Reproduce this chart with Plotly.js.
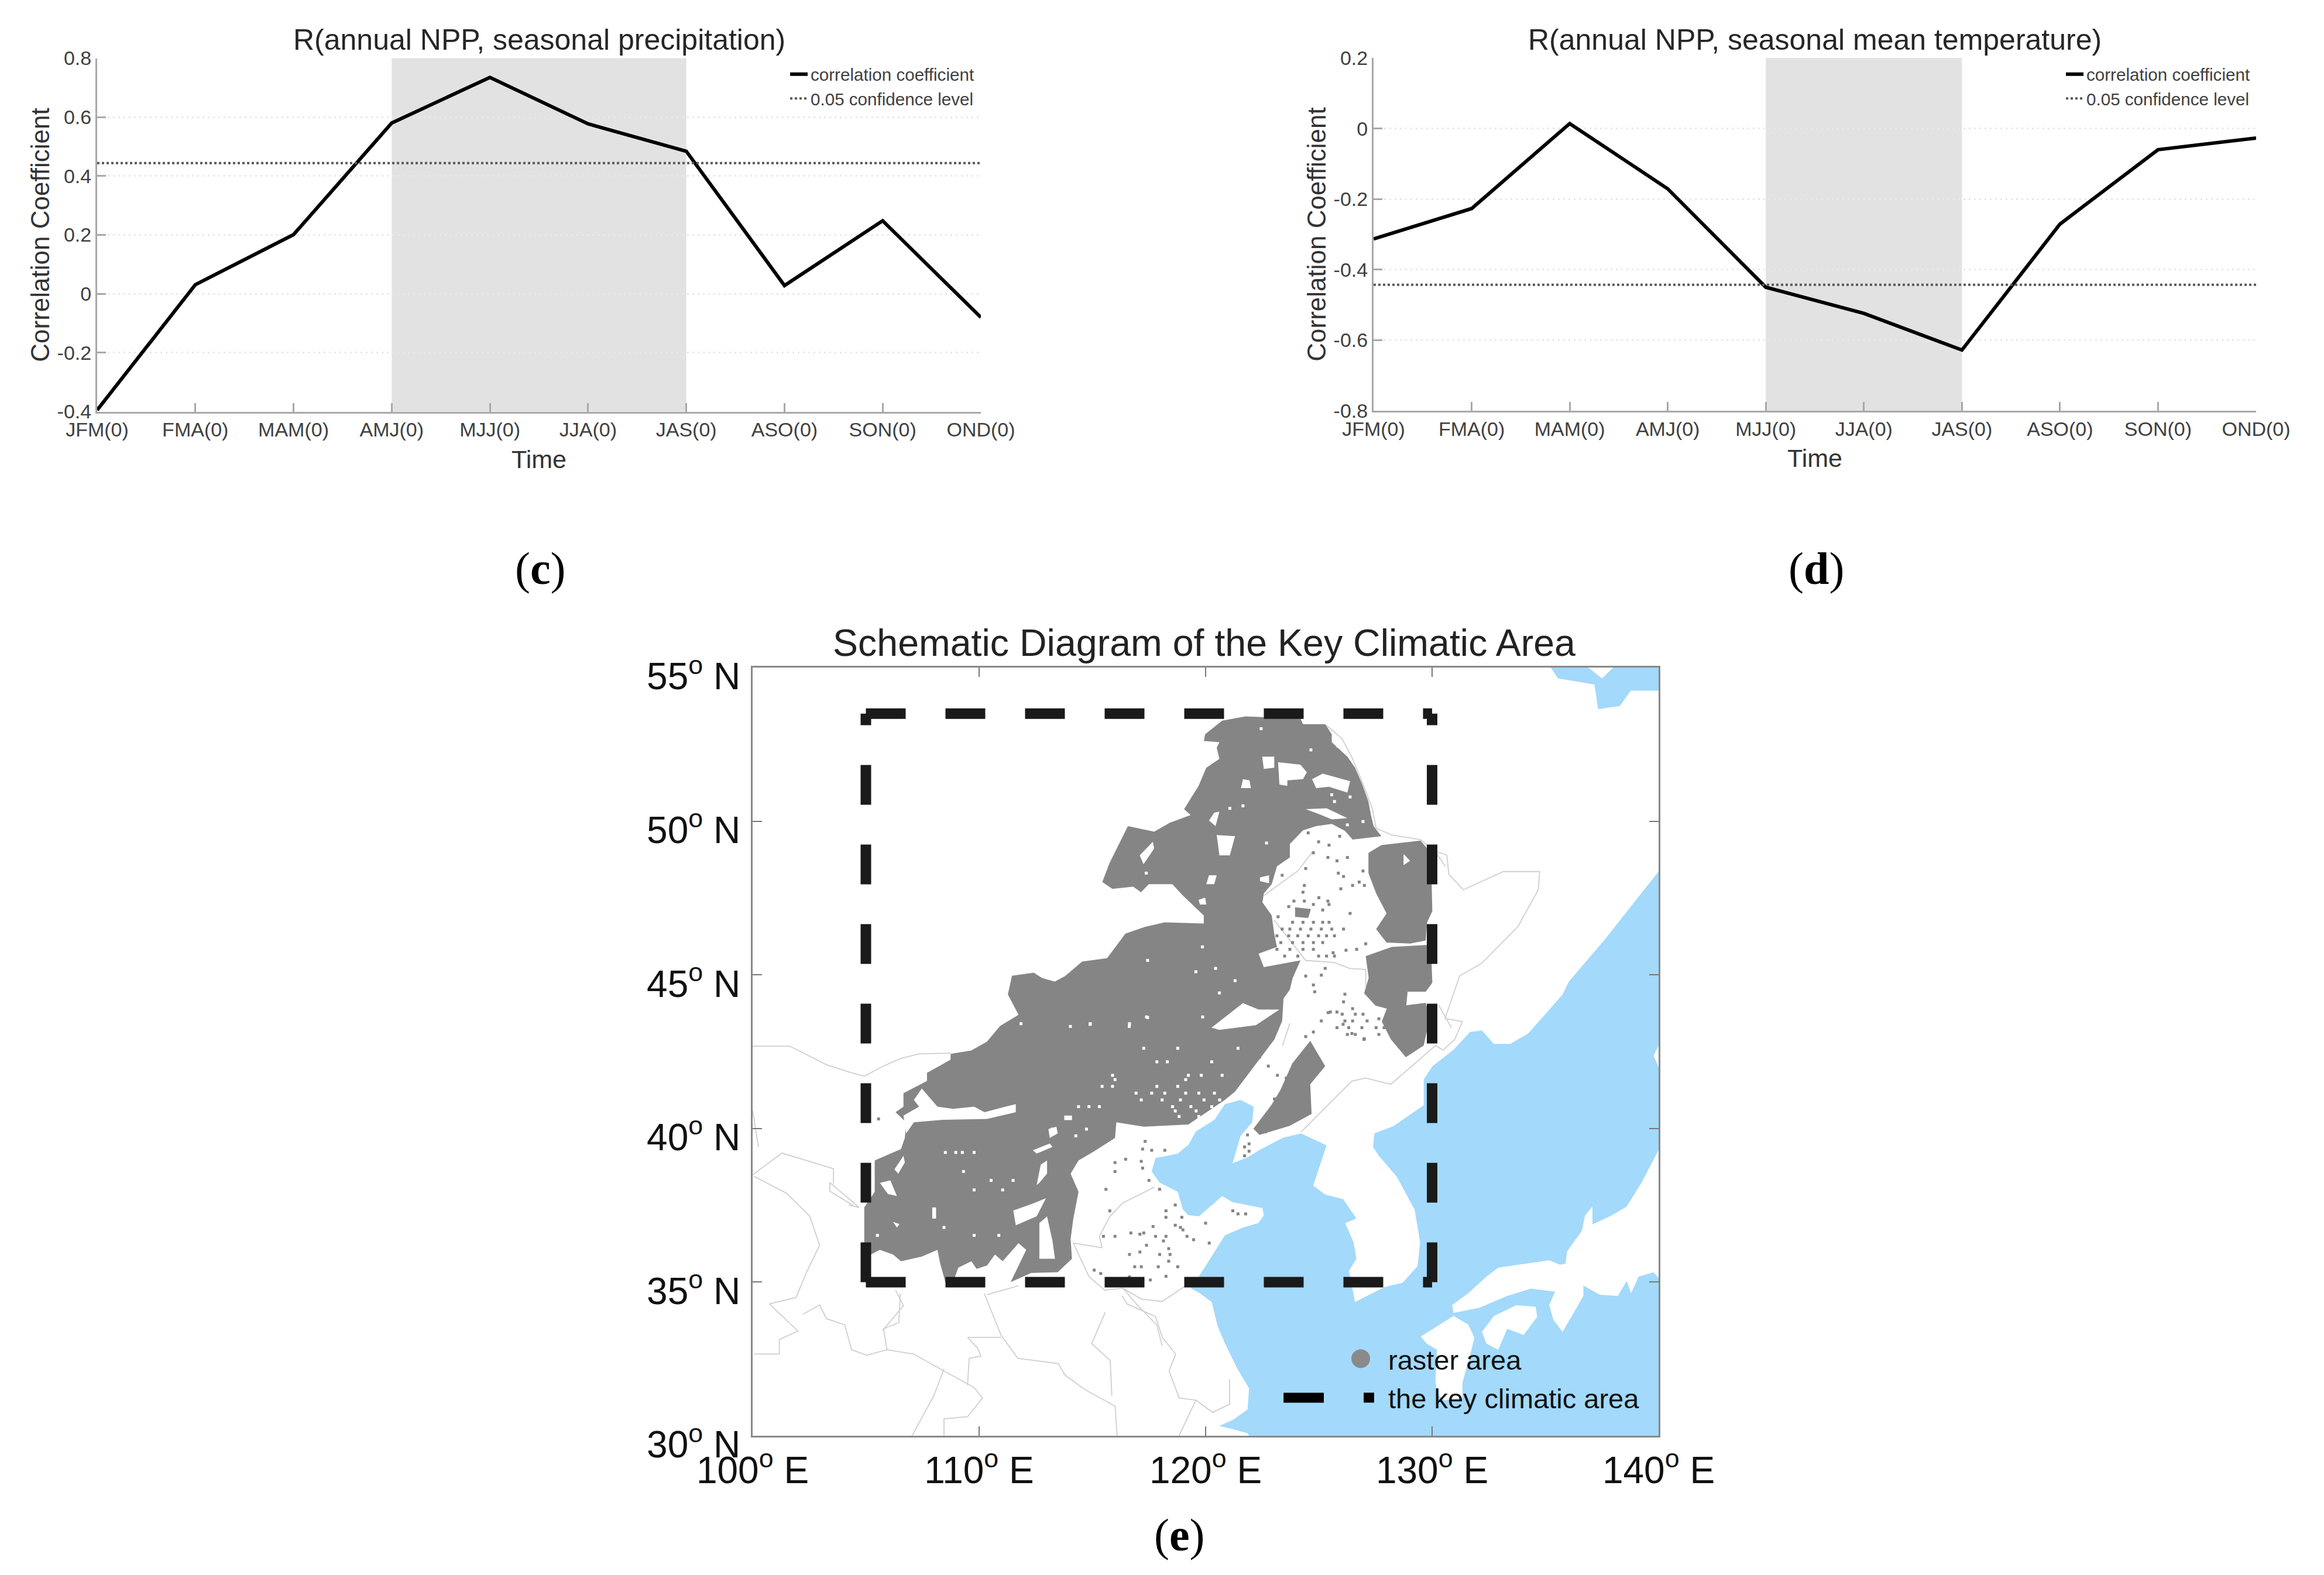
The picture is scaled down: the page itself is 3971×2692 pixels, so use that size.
<!DOCTYPE html>
<html><head><meta charset="utf-8">
<script src="https://cdn.plot.ly/plotly-3.0.1.min.js"></script>
<style>html,body{margin:0;padding:0;background:#fff}#chart{width:3971px;height:2692px}</style>
</head><body><div id="chart"></div>
<script>
const seasons = ['JFM(0)','FMA(0)','MAM(0)','AMJ(0)','MJJ(0)','JJA(0)','JAS(0)','ASO(0)','SON(0)','OND(0)'];
const precipR = [-0.395,0.031,0.201,0.58,0.735,0.577,0.484,0.028,0.248,-0.08];
const tempR = [-0.313,-0.227,0.014,-0.171,-0.45,-0.524,-0.628,-0.271,-0.06,-0.027];
const precipConf = 0.444;
const tempConf = -0.443;
const precipShade = ['AMJ(0)','JAS(0)'];
const tempShade = ['MJJ(0)','JAS(0)'];
const precipTicks = [-0.4,-0.2,0,0.2,0.4,0.6,0.8];
const precipTickText = ['-0.4','-0.2','0','0.2','0.4','0.6','0.8'];
const tempTicks = [-0.8,-0.6,-0.4,-0.2,0,0.2];
const tempTickText = ['-0.8','-0.6','-0.4','-0.2','0','0.2'];
const lonTicks = [100,110,120,130,140];
const latTicks = [30,35,40,45,50,55];
const keyLon = [105,130];
const keyLat = [35,53.5];

const seaCoast = [[121.92,30],[121.85,30.08],[121.19,30.22],[120.6,30.32],[121.19,30.51],[121.85,30.85],[121.92,31.54],[121.39,32.2],[120.86,33.0],[120.53,33.57],[120.27,34.35],[119.74,34.64],[119.35,34.8],[119.7,35.18],[120.39,35.98],[120.85,36.52],[121.66,36.78],[122.33,36.92],[122.57,37.17],[122.51,37.41],[121.19,37.6],[120.73,37.8],[120.39,37.58],[119.7,37.14],[119.24,37.18],[119.0,37.36],[118.77,37.94],[117.97,38.24],[117.62,38.6],[117.79,39.04],[118.31,39.11],[118.77,39.18],[119.24,39.47],[119.58,39.91],[120.39,40.28],[120.85,40.79],[121.54,40.93],[122.12,40.71],[122.06,40.2],[121.54,39.76],[121.43,39.47],[121.19,38.87],[121.85,39.06],[122.38,39.3],[123.43,39.7],[124.22,39.84],[125.34,39.45],[124.75,38.14],[125.28,37.85],[126.07,37.7],[126.66,37.07],[126.16,36.92],[126.53,36.3],[126.66,35.76],[126.33,35.37],[126.6,34.35],[127.12,34.55],[127.91,34.84],[128.7,34.98],[129.36,35.52],[129.47,36.3],[129.23,37.36],[128.44,38.43],[127.65,39.11],[127.39,39.4],[127.45,39.84],[128.31,40.08],[129.63,40.76],[129.63,41.59],[130.02,42.03],[130.95,42.56],[131.67,43.14],[132.2,43.19],[132.73,42.75],[133.45,42.75],[134.24,43.09],[135.3,43.97],[135.76,44.36],[136.04,44.78],[137.65,46.17],[138.93,47.37],[140,48.36],[140,30]];
const seaNorth = [[135.24,55],[135.56,54.65],[137.17,54.45],[137.33,53.65],[138.29,53.75],[138.77,54.25],[140,54.25],[140,55]];
const honshu = [[140,39.3],[139.25,38.24],[138.59,37.46],[137.93,37.17],[137.08,36.88],[137.08,37.46],[136.75,37.17],[136.62,36.68],[135.96,36.0],[135.89,35.6],[135.63,35.57],[135.17,35.71],[132.92,35.47],[132.4,35.18],[131.6,34.64],[130.88,34.25],[130.95,34.0],[132.07,34.16],[133.32,34.55],[134.37,34.79],[135.43,34.69],[135.17,34.25],[135.36,33.77],[135.76,33.38],[136.22,33.96],[136.68,34.55],[136.68,34.89],[137.41,34.59],[138.2,34.55],[138.59,35.03],[138.79,34.64],[139.12,35.18],[139.78,35.32],[140,35.13]];
const kyushu = [[129.5,33.23],[130.95,33.9],[131.6,33.62],[131.87,33.19],[131.67,32.6],[131.34,31.73],[131.34,31.24],[130.55,31.15],[130.22,31.34],[130.15,31.79],[130.22,32.8],[129.76,33.0]];
const shikoku = [[132.2,33.38],[132.73,33.9],[133.72,34.25],[134.57,34.2],[134.64,33.87],[134.04,33.28],[133.32,33.48],[132.92,32.8],[132.4,33.0]];
const islets = [[140,42.7],[139.78,42.37],[140,42.0],null,[136.9,55],[138.0,55],[137.5,54.65]];

const borders = [
 [[100,42.68],[101.64,42.68],[103.25,42.08],[104.24,41.84],[104.93,41.7],[105.74,42.02],[106.55,42.28],[107.35,42.43],[108.74,42.45]],
 [[125.34,53.12],[126.03,52.68],[126.49,52.03],[126.9,51.3],[127.36,50.42],[127.53,49.77],[128.22,49.55],[129.49,49.4],[130.07,49.04],[130.65,48.9],[130.74,48.27],[131.38,47.77],[133.15,48.36],[134.75,48.36],[134.69,47.77],[133.79,46.57],[132.18,45.37],[131.22,44.97],[130.57,43.58],[131.34,43.48],[131.0,42.9],[130.49,42.55],[130.15,42.7],[128.18,41.44],[127.06,41.64],[126.46,41.54],[125.67,40.96],[124.22,39.89]],
 [[100.07,38.44],[101.48,37.9],[102.52,37.15],[102.96,36.2],[102.37,35.31],[101.92,34.5],[100.74,34.29],[102.0,33.41],[101.18,33.13],[101.18,32.66],[100.07,32.66]],
 [[102.22,33.95],[102.96,34.26],[103.26,33.81],[104.07,33.61],[104.37,32.8],[105.04,32.62],[105.93,32.8],[107.11,32.66],[108.45,32.11],[109.78,31.57],[110.15,31.23],[109.49,30.62],[108.45,30.55],[108.45,30]],
 [[106.52,34.63],[106.45,33.68],[105.78,33.48],[105.93,32.8]],
 [[108.45,32.18],[108.0,31.3],[107.04,30]],
 [[110.23,34.63],[110.97,33.27],[111.71,32.52],[113.49,32.35],[113.79,31.98],[114.68,31.5],[116.01,30.96],[116.09,30]],
 [[110.97,33.2],[109.49,33.2],[109.93,32.86],[110.08,32.59],[109.56,32.52],[109.49,31.64]],
 [[115.57,34.02],[114.97,33.0],[115.79,32.45],[115.86,31.3]],
 [[116.31,34.56],[116.53,34.29],[117.79,33.88],[118.09,33.2],[118.68,32.66],[118.39,32.11],[118.83,31.23],[119.57,31.16],[120.31,30.76],[121.06,31.03],[121.06,31.84]],
 [[119.57,31.16],[118.83,30]],
 [[116.35,34.8],[117.16,34.45],[118.08,34.37],[119.12,34.88]],
 [[116.35,34.8],[116.93,34.3],[117.85,33.6],[118.08,32.93]],
 [[117.74,38.09],[116.35,37.58],[115.77,37.14],[115.31,36.49],[115.43,36.12],[114.16,36.27],[114.85,35.18],[115.54,34.74],[116.35,34.8]],
 [[110.35,34.59],[111.74,34.88]],
 [[106.31,34.74],[106.66,34.23],[105.74,33.43]],
 [[104.24,37.51],[104.7,37.43],[103.41,38.24],[103.41,37.96],[104.45,37.49]],
 [[100,38.49],[101.3,39.2],[103.57,38.69],[103.57,38.2]],
 [[100,40.59],[100.26,39.39]],
 [[122.57,47.58],[124.07,48.38],[124.76,49.04]],
 [[123.03,46.78],[124.42,45.47],[125.69,45.4],[126.38,45.2],[127.07,45.18],[127.07,44.6]],
 [[123.72,43.43],[123.4,42.7]],
 [[130.24,48.9],[130.59,48.53]],
 [[130.3,44.01],[130.85,43.28]]
];

const rasterMain = [[121.76,53.41],[124.19,53.34],[124.3,53.16],[125.28,53.16],[125.57,52.83],[125.57,52.57],[126.26,52.1],[126.6,51.74],[126.9,51.23],[127.19,50.64],[127.3,50.2],[127.42,49.84],[127.76,49.51],[126.49,49.4],[126.15,49.69],[125.57,49.91],[124.88,49.84],[124.3,49.7],[123.72,49.26],[123.72,48.82],[123.15,48.53],[122.92,47.95],[122.57,47.65],[122.51,47.36],[122.92,46.93],[123.03,46.34],[123.15,45.91],[122.34,45.69],[122.57,45.25],[124.19,45.47],[123.84,44.89],[123.72,44.52],[123.44,44.23],[123.38,43.5],[123.04,42.9],[121.85,41.73],[121.3,41.2],[120.85,40.93],[119.24,40.13],[117.27,40.06],[116.06,40.2],[116.0,39.69],[115.08,39.26],[114.39,38.96],[114.04,38.53],[114.39,37.94],[114.16,37.07],[114.04,36.4],[114.1,35.76],[113.47,35.32],[112.3,35.3],[111.39,35.0],[112.08,36.05],[111.74,36.27],[111.04,35.68],[110.7,35.9],[110.35,35.54],[109.89,35.43],[109.66,35.68],[109.08,35.47],[108.85,35.0],[108.51,35.0],[108.28,35.61],[108.16,36.05],[107.47,35.83],[106.55,35.68],[106.2,35.9],[105.62,36.05],[105.22,35.9],[105.22,35.32],[104.99,35.0],[104.93,36.27],[104.93,37.43],[105.39,37.94],[105.39,38.96],[106.55,39.33],[106.72,39.69],[106.78,40.2],[106.31,40.53],[106.66,40.71],[106.66,41.15],[107.7,41.55],[107.7,41.81],[108.74,42.24],[108.74,42.43],[109.66,42.54],[110.35,42.83],[110.93,43.34],[111.74,43.7],[111.27,44.36],[111.45,44.97],[112.41,45.07],[112.77,44.9],[113.34,44.78],[113.8,44.96],[114.55,45.43],[115.65,45.54],[116.46,46.34],[117.32,46.56],[118.19,46.71],[119.92,46.67],[119.92,46.93],[119.0,47.58],[118.53,47.95],[117.49,47.95],[117.15,47.69],[116.8,47.87],[115.88,47.8],[115.44,48.02],[115.76,48.64],[116.57,49.84],[117.73,49.66],[118.42,49.95],[119.34,50.2],[119.05,50.39],[119.69,51.15],[120.03,51.74],[120.61,52.03],[120.49,52.39],[120.61,52.57],[119.92,52.61],[119.98,52.83],[120.73,53.27]];
const rasterEastUpper = [[127.19,48.97],[127.76,49.22],[129.49,49.37],[129.95,48.97],[130.01,47.07],[129.78,46.71],[129.72,46.12],[129.03,46.02],[127.99,46.05],[127.53,46.49],[127.99,47.0],[127.53,47.65],[127.19,48.31]];
const rasterEastLower = [[127.07,45.61],[128.22,45.91],[129.95,45.98],[130.01,44.74],[129.72,44.45],[128.92,44.45],[128.86,44.01],[129.72,44.09],[129.9,43.6],[129.63,42.7],[128.84,42.32],[128.18,42.9],[127.78,43.48],[128.0,43.9],[127.5,44.0],[127.0,44.4],[127.2,44.9]];
const rasterLiaoning = [[124.62,42.85],[125.28,42.03],[124.62,41.44],[124.68,40.47],[123.7,40.08],[122.38,39.79],[122.11,39.99],[122.9,40.76],[123.3,41.25],[123.83,42.12]];
const rasterPatch = [[123.95,47.2],[124.65,47.14],[124.53,46.85],[123.95,46.89]];

const rasterHoles = [
 [[106.78,39.84],[107.12,40.2],[108.39,40.28],[110.35,40.31],[111.62,40.53],[111.62,40.79],[111.16,40.71],[110.24,40.53],[109.78,40.71],[108.85,40.64],[108.16,40.71],[107.47,41.3],[107.12,40.93],[107.35,40.71],[106.66,40.42]],
 [[111.62,36.85],[111.51,37.33],[112.31,37.54],[112.95,37.73],[112.54,37.14]],
 [[112.54,38.16],[112.72,38.82],[113.0,38.96],[113.0,38.53],[112.66,38.23]],
 [[112.66,36.92],[113.0,37.14],[113.24,36.34],[113.35,35.76],[112.66,35.76],[112.66,36.34]],
 [[112.37,39.29],[113.12,39.51],[113.24,39.4],[112.54,39.18]],
 [[113.76,40.42],[114.1,40.42],[114.1,40.27],[113.76,40.27]],
 [[113.06,39.98],[113.41,40.06],[113.47,39.84],[113.12,39.69]],
 [[105.62,38.23],[106.08,38.31],[106.37,37.8],[105.97,37.87]],
 [[106.26,38.67],[106.66,39.11],[106.72,38.89],[106.43,38.53]],
 [[107.93,37.43],[108.1,37.43],[108.1,37.07],[107.93,37.07]],
 [[106.2,36.96],[106.49,36.89],[106.37,36.78]],
 [[121.65,51.37],[121.94,51.33],[122.0,51.08],[121.56,51.08]],
 [[123.2,51.92],[124.19,51.84],[124.47,51.59],[124.3,51.37],[123.61,51.33],[123.61,51.15],[123.26,51.19]],
 [[122.5,52.1],[123.03,52.1],[123.03,51.74],[122.57,51.7]],
 [[124.7,51.37],[125.17,51.55],[126.38,51.3],[126.26,50.93],[125.45,51.12],[124.88,51.08]],
 [[117.09,48.89],[117.67,49.33],[117.73,49.11],[117.26,48.6]],
 [[120.49,49.55],[121.3,49.51],[121.07,48.89],[120.61,48.89]],
 [[120.38,50.28],[120.61,50.31],[120.44,49.84],[120.15,50.02]],
 [[120.15,48.24],[120.49,48.24],[120.38,47.95],[120.03,47.95]],
 [[119.69,47.44],[119.98,47.51],[120.03,47.29],[119.75,47.29]],
 [[122.4,48.17],[122.8,48.24],[122.8,47.98],[122.4,48.05]],
 [[124.42,50.39],[125.34,50.42],[126.26,50.1],[125.57,50.06],[125.11,50.2]],
 [[120.26,43.28],[121.65,44.08],[122.34,43.87],[123.26,43.87],[122.22,43.36],[120.61,43.21]],
 [[125.57,52.68],[125.92,52.75],[126.03,52.39],[125.8,52.39]],
 [[128.74,48.93],[129.03,48.71],[128.74,48.57]]
];

const grayDotLon = [105.56,116.0,116.0,115.6,115.77,117.33,117.22,117.62,118.2,116.47,117.16,117.22,117.5,117.97,118.66,118.25,118.25,118.95,117.68,120.0,118.66,118.89,119.0,116.7,115.49,116.0,117.1,117.27,117.79,118.25,118.14,119.18,119.47,117.39,118.37,117.1,116.64,117.97,118.43,118.37,116.87,117.16,117.91,118.77,115.08,115.37,118.25,117.56,120.16,121.2,121.43,121.77,116.64,
 124.53,124.99,125.45,125.92,124.76,125.4,125.8,126.26,126.95,124.42,123.38,125.86,126.09,124.36,124.3,125.97,126.49,126.78,127.01,123.9,124.36,125.0,125.4,123.67,124.76,125.45,125.17,126.38,123.2,126.09,127.07,126.2,126.67,125.63,125.28,124.42,125.11,124.76,124.82,126.15,126.09,126.49,125.51,125.8,125.11,127.01,124.42,124.76,
 123.84,124.3,124.76,125.17,125.45,123.38,123.72,124.19,124.65,125.11,125.57,123.15,123.67,124.07,124.53,124.99,125.34,125.69,123.32,123.84,124.3,124.76,125.17,123.15,123.72,124.3,124.76,123.49,124.07,124.99,125.34,125.69,
 126.03,126.61,126.95,126.15,126.49,127.13,125.8,126.32,126.9,127.53,127.88,128.34,127.65,127.99,126.26,126.61,127.65,121.92,121.72,
 125.41,126.07,126.46,126.99,123.56,123.17,122.38,122.77,123.56,122.64,121.85,122.38,123.04,121.72,121.92];
const grayDotLat = [40.31,38.89,38.6,38.02,37.32,39.58,39.33,39.29,39.29,39.0,38.93,38.71,38.31,38.02,37.51,37.32,37.11,37.11,36.81,36.92,36.85,36.78,36.7,36.6,36.49,36.49,36.56,36.6,36.49,36.49,36.34,36.49,36.38,36.2,36.09,35.98,35.9,35.9,35.9,35.68,35.5,35.5,35.5,35.5,35.39,35.28,35.19,35.07,36.27,37.32,37.22,37.22,35.17,
 49.62,49.33,49.22,49.51,48.97,48.82,48.71,48.82,48.38,48.46,48.24,48.31,48.2,47.91,47.69,47.8,47.91,48.02,47.91,47.4,47.4,47.51,47.4,47.22,47.29,47.29,47.11,47.0,46.89,46.49,46.01,45.8,45.83,45.72,45.21,44.96,44.99,44.67,44.45,44.37,44.12,43.9,43.79,43.79,43.5,42.92,42.99,43.14,
 46.71,46.71,46.71,46.71,46.71,46.49,46.49,46.49,46.49,46.49,46.49,46.27,46.27,46.27,46.27,46.27,46.27,46.27,46.05,46.05,46.05,46.05,46.05,45.83,45.83,45.83,45.83,45.61,45.61,45.61,45.61,45.61,
 43.72,43.72,43.72,43.5,43.5,43.5,43.28,43.28,43.28,43.28,43.28,43.28,43.57,43.57,43.06,43.06,43.06,39.5,39.11,
 43.77,43.39,43.09,42.9,41.64,41.73,42.32,42.03,40.67,39.89,39.79,40.08,40.96,39.4,39.26];
const whiteDotLon = [117.39,119.87,114.91,116.64,111.85,118.77,117.27,121.43,118.31,117.85,120.27,115.89,119.24,119.81,120.73,119.12,116.0,115.43,115.89,117.85,118.77,116.93,117.62,118.2,119.12,119.7,120.39,117.16,118.08,118.89,119.93,120.62,114.39,114.85,115.31,118.54,119.35,120.27,118.66,119.58,118.83,119.7,113.24,114.74,114.27,108.51,108.97,109.26,109.78,109.31,110.53,111.5,109.78,111.04,108.45,105.51,109.78,110.87,122.45,124.65,117.38,121.65,121.07,122.69,119.86,117.44,120.61,117.44,116.63,114.9,114.03,120.44,121.3,119.57,125.57,125.69,126.38,126.95,126.26];
const whiteDotLat = [43.63,43.63,43.41,43.41,43.41,42.61,42.61,42.61,42.17,42.17,42.17,41.73,41.73,41.73,41.73,41.59,41.59,41.37,41.37,41.37,41.37,41.15,41.15,41.15,41.15,41.15,41.15,40.93,40.93,40.93,40.93,40.93,40.71,40.71,40.71,40.71,40.71,40.71,40.57,40.57,40.39,40.39,39.98,39.98,39.76,39.22,39.22,39.22,39.22,38.6,38.31,38.31,38.0,38.0,36.78,36.52,36.52,36.52,53.01,52.32,48.31,50.5,50.42,49.29,45.91,45.47,44.41,43.61,43.32,43.39,43.32,45.21,44.81,45.1,50.86,50.64,50.79,49.99,49.88];

const W = 3971, H = 2692;
const fx = p => p / W, fy = p => 1 - p / H;
const xs = a => a.map(p => p ? p[0] : null), ys = a => a.map(p => p ? p[1] : null);
const join = list => list.reduce((o, l, i) => o.concat(i ? [null] : [], l), []);
const FONT = '"Liberation Sans", Arial, sans-serif';
const poly = (pts, color, xa, ya) => ({type:'scatter', mode:'lines', x:xs(pts), y:ys(pts), fill:'toself', fillcolor:color, line:{width:0,color:color}, hoverinfo:'skip', showlegend:false, xaxis:xa, yaxis:ya, connectgaps:false});

const traces = [
 {x:seasons,y:precipR,type:'scatter',mode:'lines',name:'correlation coefficient',line:{color:'#000',width:6},xaxis:'x',yaxis:'y',legend:'legend',cliponaxis:false},
 {x:seasons,y:seasons.map(()=>precipConf),type:'scatter',mode:'lines',name:'0.05 confidence level',line:{color:'#5a5a5a',width:4,dash:'4px,4px'},xaxis:'x',yaxis:'y',legend:'legend'},
 {x:seasons,y:tempR,type:'scatter',mode:'lines',name:'correlation coefficient',line:{color:'#000',width:6},xaxis:'x2',yaxis:'y2',legend:'legend2',cliponaxis:false},
 {x:seasons,y:seasons.map(()=>tempConf),type:'scatter',mode:'lines',name:'0.05 confidence level',line:{color:'#5a5a5a',width:4,dash:'4px,4px'},xaxis:'x2',yaxis:'y2',legend:'legend2'},
 poly(join([seaCoast,seaNorth]),'#a3d9fb','x3','y3'),
 poly(join([honshu,kyushu,shikoku,islets]),'#ffffff','x3','y3'),
 {type:'scatter',mode:'lines',x:xs(join(borders)),y:ys(join(borders)),line:{color:'#cfcfcf',width:1.8},hoverinfo:'skip',showlegend:false,xaxis:'x3',yaxis:'y3'},
 poly(join([rasterMain,rasterEastUpper,rasterEastLower,rasterLiaoning,rasterPatch]),'#858585','x3','y3'),
 poly(join(rasterHoles),'#ffffff','x3','y3'),
 {type:'scatter',mode:'markers',x:whiteDotLon,y:whiteDotLat,marker:{symbol:'square',size:5,color:'#fff'},hoverinfo:'skip',showlegend:false,xaxis:'x3',yaxis:'y3'},
 {type:'scatter',mode:'markers',x:grayDotLon,y:grayDotLat,marker:{symbol:'square',size:5,color:'#858585'},name:'raster area',showlegend:false,xaxis:'x3',yaxis:'y3'}
];
const keyEdges = [
 [[keyLon[0],keyLon[1]],[keyLat[0],keyLat[0]]],
 [[keyLon[1],keyLon[1]],[keyLat[0],keyLat[1]]],
 [[keyLon[0],keyLon[1]],[keyLat[1],keyLat[1]]],
 [[keyLon[0],keyLon[0]],[keyLat[0],keyLat[1]]]
];
keyEdges.forEach(e => traces.push({type:'scatter',mode:'lines',x:e[0],y:e[1],line:{color:'#1a1a1a',width:18,dash:'68px,68px'},name:'the key climatic area',showlegend:false,hoverinfo:'skip',xaxis:'x3',yaxis:'y3',cliponaxis:false}));
// panel (e) legend keys, placed in map coordinates
traces.push({type:'scatter',mode:'markers',x:[126.85],y:[32.51],marker:{symbol:'circle',size:32,color:'#8a8a8a'},hoverinfo:'skip',showlegend:false,xaxis:'x3',yaxis:'y3'});
traces.push({type:'scatter',mode:'lines',x:[123.44,125.22],y:[31.24,31.24],line:{color:'#000',width:17},hoverinfo:'skip',showlegend:false,xaxis:'x3',yaxis:'y3'});
traces.push({type:'scatter',mode:'lines',x:[126.98,127.44],y:[31.24,31.24],line:{color:'#000',width:17},hoverinfo:'skip',showlegend:false,xaxis:'x3',yaxis:'y3'});

const gray = '#a8a8a8';
const catAxis = (dom, anchor) => ({domain:dom, anchor, type:'category', categoryorder:'array', categoryarray:seasons, range:[0,9], tickmode:'array', tickvals:seasons, ticktext:seasons, ticks:'inside', ticklen:15, tickwidth:3, tickcolor:gray, linecolor:gray, linewidth:3, showline:true, showgrid:false, zeroline:false, tickangle:0, tickfont:{family:FONT,size:34,color:'#404040'}, ticklabelstandoff:-1, title:{text:'Time',font:{family:FONT,size:43,color:'#333'},standoff:18}, automargin:false});
const valAxis = (dom, anchor, range, vals, text) => ({domain:dom, anchor, range, tickmode:'array', tickvals:vals, ticktext:text, ticks:'inside', ticklen:15, tickwidth:3, tickcolor:gray, linecolor:gray, linewidth:3, showline:true, showgrid:true, gridcolor:'#e8e8e8', gridwidth:3, griddash:'3px,6px', zeroline:false, tickfont:{family:FONT,size:34,color:'#404040'}, title:{text:'Correlation Coefficient',font:{family:FONT,size:44,color:'#333'},standoff:0}, automargin:false});
const mapAxis = (dom, anchor, range, vals, suffix, shift, off) => ({domain:dom, anchor, range, tickmode:'array', tickvals:vals, ticktext:vals.map(v=>v+'<sup>o</sup> '+suffix), ticks:'inside', ticklen:16, tickwidth:2, tickcolor:'#777', linecolor:'#888', linewidth:3, showline:true, mirror:'ticks', showgrid:false, zeroline:false, tickangle:0, tickfont:{family:FONT,size:64,color:'#111'}, ticklabelshift:shift, ticklabelstandoff:off, automargin:false});
const note = (text, xp, yp, size, color, family) => ({text, xref:'paper', yref:'paper', x:fx(xp), y:fy(yp), xanchor:'center', yanchor:'middle', showarrow:false, font:{family:family||FONT,size,color:color||'#222'}});
const leftNote = (text, lon, lat) => ({text, xref:'x3', yref:'y3', x:lon, y:lat, xanchor:'left', yanchor:'middle', showarrow:false, font:{family:FONT,size:47,color:'#111'}});
const legendAt = (xp) => ({x:fx(xp), y:fy(101), xanchor:'left', yanchor:'top', bgcolor:'rgba(0,0,0,0)', borderwidth:0, font:{family:FONT,size:29.6,color:'#404040'}, itemwidth:30, tracegroupgap:0});
const layout = {
 width:W, height:H, margin:{l:0,r:0,t:0,b:0}, paper_bgcolor:'#fff', plot_bgcolor:'rgba(0,0,0,0)', showlegend:true,
 font:{family:FONT},
 xaxis: catAxis([fx(166),fx(1676)],'y'),
 yaxis: valAxis([fy(703.5),fy(99.5)],'x',[-0.4,0.8],precipTicks,precipTickText),
 xaxis2: catAxis([fx(2347),fx(3855)],'y2'),
 yaxis2: valAxis([fy(702),fy(99)],'x2',[-0.8,0.2],tempTicks,tempTickText),
 xaxis3: mapAxis([fx(1286),fx(2834)],'y3',[100,140],lonTicks,'E',0,1),
 yaxis3: mapAxis([fy(2454),fy(1141)],'x3',[30,55],latTicks,'N',15,5),
 legend: legendAt(1345),
 legend2: legendAt(3525),
 shapes:[
  {type:'rect',layer:'below',xref:'x',yref:'y domain',x0:precipShade[0],x1:precipShade[1],y0:0,y1:1,fillcolor:'#e2e2e2',line:{width:0}},
  {type:'rect',layer:'below',xref:'x2',yref:'y2 domain',x0:tempShade[0],x1:tempShade[1],y0:0,y1:1,fillcolor:'#e2e2e2',line:{width:0}}
 ],
 annotations:[
  note('R(annual NPP, seasonal precipitation)',921,68,50,'#262626'),
  note('R(annual NPP, seasonal mean temperature)',3101,68,50,'#262626'),
  note('Schematic Diagram of the Key Climatic Area',2057,1099,64.5,'#222'),
  note('(<b>c</b>)',923,971,78,'#000','"Liberation Serif", serif'),
  note('(<b>d</b>)',3103,971,78,'#000','"Liberation Serif", serif'),
  note('(<b>e</b>)',2015,2623,78,'#000','"Liberation Serif", serif'),
  leftNote('raster area',128.01,32.46),
  leftNote('the key climatic area',128.01,31.2)
 ]
};
Plotly.newPlot('chart',traces,layout,{displayModeBar:false,staticPlot:true});
</script></body></html>
